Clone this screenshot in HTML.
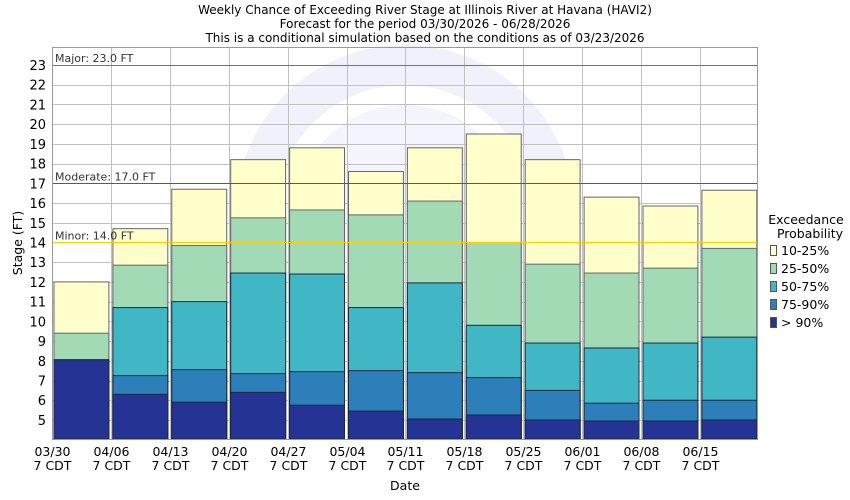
<!DOCTYPE html>
<html><head><meta charset="utf-8"><style>
body{margin:0;background:#fff}
svg{display:block;font-family:"DejaVu Sans","Liberation Sans",sans-serif}
</style></head><body>
<svg id="s" width="850" height="500" xmlns="http://www.w3.org/2000/svg"></svg>
<script>
const s=document.getElementById('s');let h='';
const X0=52,X1=757,T=47,B=439;
const y=v=>65+(23-v)*19.72;
const r=v=>Math.round(y(v))+0.5;
h+='<rect width="850" height="500" fill="#fff"/>';
h+='<text x="425" y="14" font-size="12" text-anchor="middle">Weekly Chance of Exceeding River Stage at Illinois River at Havana (HAVI2)</text>';
h+='<text x="425" y="28" font-size="12" text-anchor="middle">Forecast for the period 03/30/2026 - 06/28/2026</text>';
h+='<text x="425" y="42" font-size="12" text-anchor="middle">This is a conditional simulation based on the conditions as of 03/23/2026</text>';
h+='<circle cx="405" cy="215" r="150" fill="none" stroke="#f1f1fc" stroke-width="40"/><circle cx="405" cy="215" r="110" fill="#f4f4fd"/>';
for(let v=5;v<=23;v++){h+=`<line x1="${X0}" x2="${X1}" y1="${r(v)}" y2="${r(v)}" stroke="#c0c0c0"/>`;
h+=`<text x="46" y="${y(v)+5}" font-size="13" text-anchor="end">${v}</text>`;}
const dates=['03/30','04/06','04/13','04/20','04/27','05/04','05/11','05/18','05/25','06/01','06/08','06/15'];
const W=58.9;
for(let i=0;i<12;i++){const x=Math.round(X0+i*W)+0.5;h+=`<line x1="${x}" x2="${x}" y1="${T}" y2="${B}" stroke="#c0c0c0"/>`;
h+=`<text x="${x}" y="456" font-size="12.5" text-anchor="middle">${dates[i]}</text><text x="${x}" y="470" font-size="12.5" text-anchor="middle">7 CDT</text>`;}
const d=[[8.05,8.05,8.05,9.4,12.0],[6.3,7.25,10.7,12.85,14.7],[5.9,7.55,11.0,13.85,16.7],[6.4,7.35,12.45,15.25,18.2],[5.75,7.45,12.4,15.65,18.8],[5.45,7.5,10.7,15.4,17.6],[5.05,7.4,11.95,16.1,18.8],[5.25,7.15,9.8,14.0,19.5],[5.0,6.5,8.9,12.9,18.2],[4.95,5.85,8.65,12.45,16.3],[4.95,6.0,8.9,12.7,15.85],[5.0,6.0,9.2,13.7,16.65]];
const c=['#253494','#2c7fb8','#41b6c4','#a1dab4','#ffffcc'];
for(let i=0;i<12;i++){const x=X0+i*W+2,w=W-4;
 for(let k=4;k>=0;k--){const top=y(d[i][k]);h+=`<rect x="${x}" y="${top}" width="${w}" height="${B-top}" fill="${c[k]}" stroke="${k<3?'#1a2a40':'#666'}" stroke-width="1"/>`;}}
h+=`<line x1="${X0}" x2="${X1}" y1="${r(23)}" y2="${r(23)}" stroke="#cc33cc"/><text x="55" y="${y(23)-3}" font-size="11" fill="#333">Major: 23.0 FT</text>`;
h+=`<line x1="${X0}" x2="${X1}" y1="${r(17)}" y2="${r(17)}" stroke="#dd2222"/><text x="55" y="${y(17)-3}" font-size="11" fill="#333">Moderate: 17.0 FT</text>`;
h+=`<line x1="${X0}" x2="${X1}" y1="${r(14)}" y2="${r(14)}" stroke="#ffcc00"/><text x="55" y="${y(14)-3}" font-size="11" fill="#333">Minor: 14.0 FT</text>`;
h+=`<rect x="${X0+0.5}" y="${T+0.5}" width="${X1-X0}" height="${B-T}" fill="none" stroke="#999"/>`;
h+=`<text transform="translate(22,243) rotate(-90)" font-size="12.5" text-anchor="middle">Stage (FT)</text>`;
h+=`<text x="405" y="490" font-size="12.5" text-anchor="middle">Date</text>`;
h+=`<text x="806" y="224" font-size="12.5" text-anchor="middle">Exceedance</text><text x="810" y="238" font-size="12.5" text-anchor="middle">Probability</text>`;
const lab=['10-25%','25-50%','50-75%','75-90%','> 90%'];
for(let k=0;k<5;k++){const yy=245+k*18;h+=`<rect x="770.5" y="${yy+0.5}" width="6" height="10" fill="${c[4-k]}" stroke="#555"/><text x="781" y="${yy+10}" font-size="12.5">${lab[k].replace('>','&gt;')}</text>`;}
s.innerHTML=h;
</script>
</body></html>
